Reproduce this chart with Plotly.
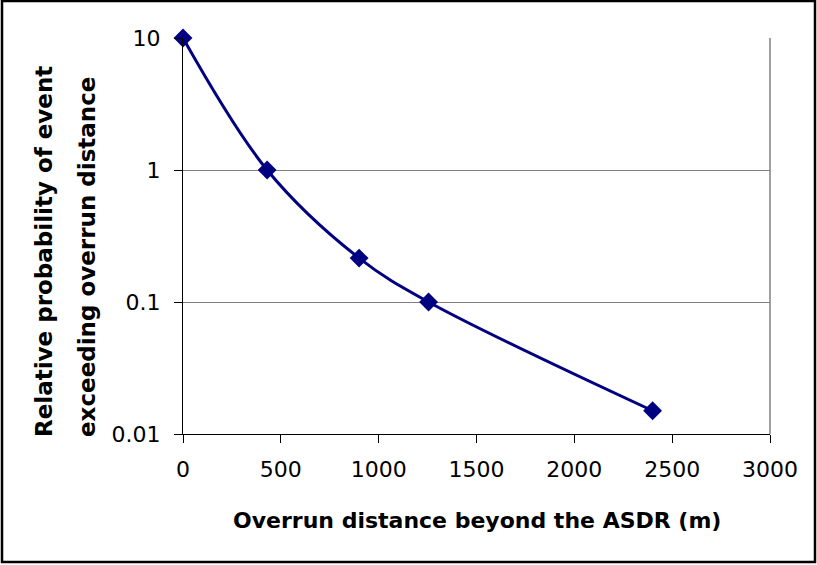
import plotly.graph_objects as go

# Data
overrun_m = [0, 430, 900, 1255, 2400]
rel_prob = [10, 1, 0.215, 0.1, 0.015]

y_tickvals = [0.01, 0.1, 1, 10]
y_ticktext = ["0.01", "0.1", "1", "10"]
x_tickvals = [0, 500, 1000, 1500, 2000, 2500, 3000]

x_title = "Overrun distance beyond the ASDR (m)"
y_title_lines = ["Relative probability of event", "exceeding overrun distance"]

W, H = 817, 565
L, R, T, B = 183, 47, 38, 131
PW, PH = W - L - R, H - T - B


def px(xp):
    return (xp - L) / PW


def py(yp):
    return (H - B - yp) / PH


NAVY = "#000080"
FONT = "DejaVu Sans"

fig = go.Figure()
fig.add_trace(go.Scatter(
    x=overrun_m, y=rel_prob, mode="lines+markers",
    line=dict(color=NAVY, width=3, shape="spline", smoothing=1.0),
    marker=dict(symbol="diamond", size=14.5, color=NAVY),
    showlegend=False, cliponaxis=False,
))

fig.update_layout(
    width=W, height=H,
    margin=dict(l=L, r=R, t=T, b=B, autoexpand=False),
    paper_bgcolor="white", plot_bgcolor="white",
    font=dict(family=FONT, color="black", size=22),
    xaxis=dict(
        range=[0, 3000], tickvals=x_tickvals, showgrid=False, zeroline=False,
        showline=True, linecolor="black", linewidth=1,
        ticks="outside", ticklen=8, tickcolor="black", tickwidth=1,
        tickfont=dict(family=FONT, size=22), ticklabelstandoff=8,
        automargin=False,
    ),
    yaxis=dict(
        type="log", range=[-2, 1], tickvals=y_tickvals, ticktext=y_ticktext,
        showgrid=True, gridcolor="#808080", gridwidth=1, zeroline=False,
        showline=True, linecolor="black", linewidth=1,
        ticks="outside", ticklen=8, tickcolor="black", tickwidth=1,
        tickfont=dict(family=FONT, size=22), ticklabelstandoff=9,
        automargin=False,
    ),
    shapes=[
        dict(type="line", xref="paper", yref="paper", x0=1, x1=1, y0=0, y1=1,
             line=dict(color="#808080", width=1.5), layer="below"),
        dict(type="rect", xref="paper", yref="paper",
             x0=px(2), x1=px(815), y0=py(562), y1=py(1),
             line=dict(color="black", width=2.5), fillcolor="rgba(0,0,0,0)"),
    ],
    annotations=[
        dict(text=x_title, xref="paper", yref="paper", x=px(477), y=py(520),
             xanchor="center", yanchor="middle", showarrow=False,
             font=dict(family=FONT, size=22, color="black", weight="bold")),
        dict(text=y_title_lines[0], xref="paper", yref="paper", x=px(44), y=py(252),
             xanchor="center", yanchor="middle", showarrow=False, textangle=-90,
             font=dict(family=FONT, size=23, color="black", weight="bold")),
        dict(text=y_title_lines[1], xref="paper", yref="paper", x=px(87), y=py(257),
             xanchor="center", yanchor="middle", showarrow=False, textangle=-90,
             font=dict(family=FONT, size=23, color="black", weight="bold")),
    ],
)

fig.write_html(
    "out.html",
    config={"displayModeBar": False},
    post_script="document.body.style.margin='0';document.body.style.overflow='hidden';",
)
